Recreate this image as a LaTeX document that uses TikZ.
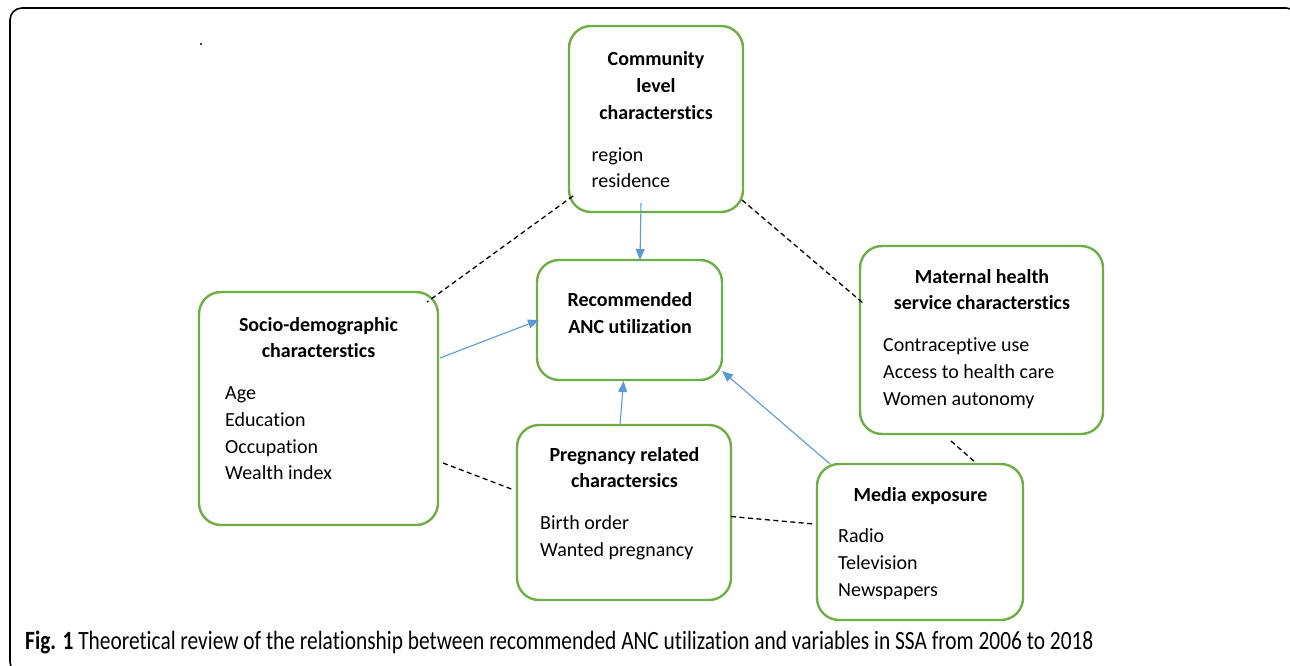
\documentclass[tikz,border=0pt]{standalone}
\usepackage{fontspec}
\setmainfont{Carlito}[RawFeature={-liga;-clig;-dlig}]
\usepackage{graphicx}
\usetikzlibrary{arrows.meta,calc}
\definecolor{boxgreen}{HTML}{70AD47}
\definecolor{arrowblue}{HTML}{5B9BD5}
\tikzset{
  box/.style={draw=boxgreen, line width=2.4pt, rounded corners=22pt, inner sep=0pt, outer sep=0pt},
  head/.style={font=\fontsize{20}{24}\selectfont\bfseries, anchor=base, inner sep=0pt},
  item/.style={font=\fontsize{20}{24}\selectfont, anchor=base west, inner sep=0pt},
  dashlink/.style={black, line width=1.3pt, dash pattern=on 5pt off 3.5pt},
  link/.style={arrowblue, line width=1.1pt, -{Triangle[length=11pt,width=9pt]}}
}
\begin{document}
\begin{tikzpicture}[x=1pt,y=-1pt]
\useasboundingbox (0,0) rectangle (1290,666);
\clip (0,0) rectangle (1290,666);
\draw[line width=1.6pt, rounded corners=12pt] (10,8) rectangle (1298,674);
\fill (201,44) circle (1.2pt);

% boxes
\node[box, minimum width=174pt, minimum height=186pt] (comm) at (656,119) {};
\node[box, minimum width=185pt, minimum height=120pt] (rec) at (629.5,320) {};
\node[box, minimum width=239pt, minimum height=233pt] (socio) at (318.5,408.5) {};
\node[box, minimum width=243pt, minimum height=188pt] (mat) at (981.5,340) {};
\node[box, minimum width=214pt, minimum height=175pt] (preg) at (624,512.5) {};
\node[box, minimum width=206pt, minimum height=156pt] (media) at (920,542) {};

% community texts
\node[head] (c1) at (656,66) {Community};
\node[head] (c2) at (656,93) {level};
\node[head] (c3) at (656,120) {characterstics};
\node[item] (c4) at (591.5,161) {region};
\node[item] (c5) at (591.5,187) {residence};

% recommended
\node[head] (r1) at (630,306.5) {Recommended};
\node[head] (r2) at (630,333.5) {ANC utilization};

% socio
\node[head] (s1) at (318.5,331) {Socio-demographic};
\node[head] (s2) at (318.5,357.5) {characterstics};
\node[item] (s3) at (225,399.5) {Age};
\node[item] (s4) at (225,426.5) {Education};
\node[item] (s5) at (225,453) {Occupation};
\node[item] (s6) at (225,479.5) {Wealth index};

% maternal
\node[head] (m1) at (982,283) {Maternal health};
\node[head] (m2) at (982,309.5) {service characterstics};
\node[item] (m3) at (883,351.5) {Contraceptive use};
\node[item] (m4) at (883,378.5) {Access to health care};
\node[item] (m5) at (883,405) {Women autonomy};

% pregnancy
\node[head] (p1) at (624.5,461) {Pregnancy related};
\node[head] (p2) at (624.5,487.5) {charactersics};
\node[item] (p3) at (540,529.5) {Birth order};
\node[item] (p4) at (540,556.5) {Wanted pregnancy};

% media
\node[head] (e1) at (920.5,501.5) {Media exposure};
\node[item] (e2) at (838,542.5) {Radio};
\node[item] (e3) at (838,569.5) {Television};
\node[item] (e4) at (838,596.5) {Newspapers};

% dashed links
\draw[dashlink] ($(comm.south west)+(4,-16)$) -- ($(socio.north east)+(-11,10)$);
\draw[dashlink] ($(comm.south east)+(-1,-12)$) -- ($(mat.north west)+(3,57)$);
\draw[dashlink] ($(socio.east)+(5,54.5)$) -- ($(preg.west)+(-3,-22.5)$);
\draw[dashlink] ($(preg.east)+(0,4)$) -- ($(media.west)+(-3,-18)$);
\draw[dashlink] ($(mat.south)+(-30.5,7)$) -- ($(media.north)+(56,-1)$);

% blue arrows
\draw[link] ($(comm.south)+(-15,-9)$) -- ($(rec.north)+(10.5,0)$);
\draw[link] ($(socio.east)+(2,-50.5)$) -- ($(rec.west)+(2,0)$);
\draw[link] ($(preg.north)+(-4,0)$) -- ($(rec.south)+(-6,1)$);
\draw[link] ($(media.north west)+(13,0)$) -- ($(rec.south east)+(0,-9)$);

% caption
\node[anchor=base west, inner sep=0pt] (cap) at (25,649) {\resizebox{1068pt}{18.5pt}{\textbf{Fig. 1} Theoretical review of the relationship between recommended ANC utilization and variables in SSA from 2006 to 2018}};
\end{tikzpicture}
\end{document}
